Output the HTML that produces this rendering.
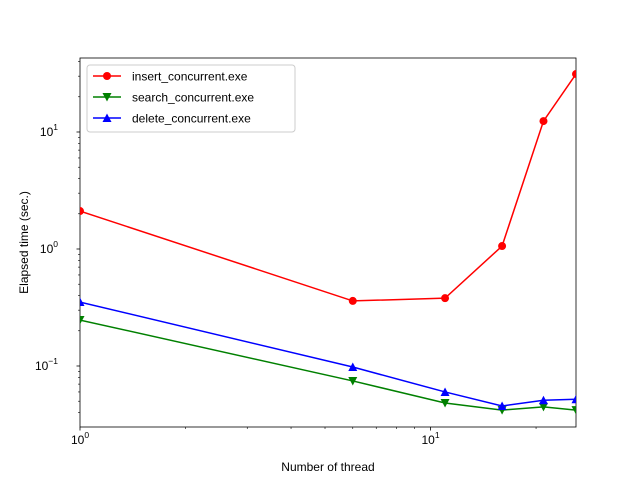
<!DOCTYPE html>
<html><head><meta charset="utf-8"><style>body{margin:0;background:#fff}svg{display:block}text{font-family:"Liberation Sans","DejaVu Sans",sans-serif}</style></head>
<body>
<svg id="chart" width="640" height="480"></svg>
<script>
const xs=[1,6,11,16,21,26];
const insertVals=[2.11,0.36,0.38,1.06,12.4,31.3];
const searchVals=[0.247,0.0745,0.0483,0.042,0.0447,0.042];
const deleteVals=[0.352,0.098,0.06,0.0455,0.051,0.052];
const xTickLabels=["10","0","10","1"];
const yTickExps=[-1,0,1];
const svg=document.getElementById('chart');
const NS='http://www.w3.org/2000/svg';
const L=80,R=576,T=58,B=427;
const xmin=1,xmax=26,ymin=0.0301,ymax=42.9;
const X=v=>L+(Math.log10(v)-Math.log10(xmin))/(Math.log10(xmax)-Math.log10(xmin))*(R-L);
const Y=v=>B-(Math.log10(v)-Math.log10(ymin))/(Math.log10(ymax)-Math.log10(ymin))*(B-T);
function el(t,a,p){const e=document.createElementNS(NS,t);for(const k in a)e.setAttribute(k,a[k]);(p||svg).appendChild(e);return e;}
// axes frame
const frame=el('rect',{x:L,y:T,width:R-L,height:B-T,fill:'none',stroke:'#000','stroke-width':0.8});


// x ticks
for(let d=0;d<=1;d++){for(let m=1;m<10;m++){const v=m*Math.pow(10,d);if(v<xmin||v>xmax)continue;const x=X(v);
const tk=el('line',{x1:x,x2:x,y1:B,y2:B+(m==1?3.5:2),stroke:'#000','stroke-width':m==1?0.8:0.6});


if(m==1){const t=el('text',{x:x,y:B+17,'font-size':12,'text-anchor':'middle'});
t.innerHTML='10<tspan font-size="8.5" dy="-6">'+d+'</tspan>';}}}
// y ticks
for(let d=-2;d<=1;d++){for(let m=1;m<10;m++){const v=m*Math.pow(10,d);if(v<ymin||v>ymax)continue;const y=Y(v);
const tk=el('line',{x1:L,x2:L-(m==1?3.5:2),y1:y,y2:y,stroke:'#000','stroke-width':m==1?0.8:0.6});


if(m==1){const t=el('text',{x:L-22,y:y+4,'font-size':12,'text-anchor':'end'});
t.innerHTML='10<tspan font-size="8.5" dy="-6">'+(d<0?'−'+(-d):d)+'</tspan>';}}}
const xt=el('text',{x:(L+R)/2,y:471,'font-size':12,'text-anchor':'middle'});xt.textContent='Number of thread';


const yt=el('text',{x:0,y:0,'font-size':12,'text-anchor':'middle',transform:'translate(28,'+((T+B)/2)+') rotate(-90)'});yt.textContent='Elapsed time (sec.)';


const clip=el('clipPath',{id:'cp'});el('rect',{x:L,y:T,width:R-L,height:B-T},clip);
function marker(g,x,y,shape,c){
 if(shape=='o')return el('circle',{cx:x,cy:y,r:4,fill:c},g);
 if(shape=='v')return el('polygon',{points:`${x-4.5},${y-4} ${x+4.5},${y-4} ${x},${y+4.5}`,fill:c},g);
 return el('polygon',{points:`${x-4.5},${y+4} ${x+4.5},${y+4} ${x},${y-4.5}`,fill:c},g);
}
function series(vals,c,shape,name){
 const g=el('g',{'clip-path':'url(#cp)'});
 
 
 el('polyline',{points:xs.map((x,i)=>X(x)+','+Y(vals[i])).join(' '),fill:'none',stroke:c,'stroke-width':1.5},g);
 xs.forEach((x,i)=>{const m=marker(g,X(x),Y(vals[i]),shape,c);});
}
series(insertVals,'#ff0000','o','insert-series');
series(searchVals,'#008000','v','search-series');
series(deleteVals,'#0000ff','^','delete-series');
// legend
const lg=el('g',{});


el('rect',{x:87,y:65,width:208,height:67,rx:3,fill:'#fff','fill-opacity':0.8,stroke:'#ccc'},lg);
[['insert_concurrent.exe','#ff0000','o'],['search_concurrent.exe','#008000','v'],['delete_concurrent.exe','#0000ff','^']].forEach((s,i)=>{
 const y=76+i*21;
 const e=el('g',{},lg);
 
 
 el('line',{x1:93,x2:121,y1:y,y2:y,stroke:s[1],'stroke-width':1.5},e);
 marker(e,107,y,s[2],s[1]);
 const t=el('text',{x:132,y:y+4.5,'font-size':12},e);t.textContent=s[0];
});
</script>
</body></html>
